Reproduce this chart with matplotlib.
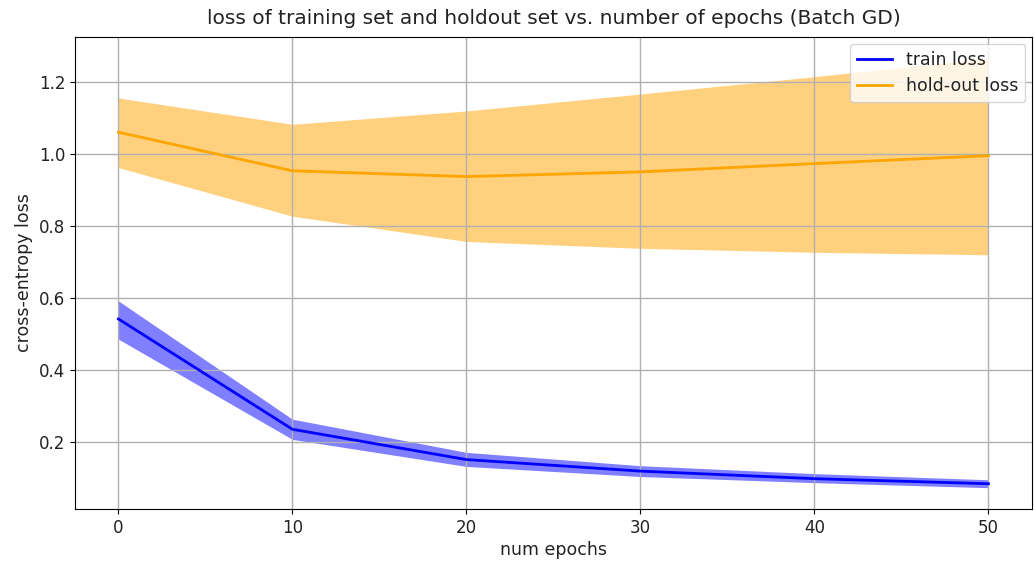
import matplotlib
matplotlib.use('Agg')
import matplotlib.pyplot as plt
import numpy as np

# epochs and loss values
epochs = [0, 10, 20, 30, 40, 50]

train_mean = [0.542, 0.236, 0.152, 0.120, 0.099, 0.085]
train_upper = [0.592, 0.264, 0.172, 0.135, 0.113, 0.096]
train_lower = [0.486, 0.208, 0.133, 0.105, 0.088, 0.074]

hold_mean = [1.060, 0.953, 0.937, 0.950, 0.973, 0.995]
hold_upper = [1.155, 1.082, 1.119, 1.166, 1.214, 1.265]
hold_lower = [0.962, 0.827, 0.757, 0.738, 0.727, 0.720]

plt.rcParams['font.size'] = 12.5
plt.rcParams['text.color'] = '#222222'
plt.rcParams['axes.labelcolor'] = '#222222'
plt.rcParams['xtick.labelcolor'] = '#222222'
plt.rcParams['ytick.labelcolor'] = '#222222'

fig = plt.figure(figsize=(10.34, 5.67), dpi=100)
ax = fig.add_axes([0.0725, 0.102, 0.9255, 0.833])

ax.plot(epochs, train_mean, color='blue', lw=2, label='train loss')
ax.fill_between(epochs, train_lower, train_upper, color='blue', alpha=0.5, lw=0)
ax.plot(epochs, hold_mean, color='orange', lw=2, label='hold-out loss')
ax.fill_between(epochs, hold_lower, hold_upper, color='orange', alpha=0.5, lw=0)

ax.set_xticks([0, 10, 20, 30, 40, 50])
ax.set_yticks([0.2, 0.4, 0.6, 0.8, 1.0, 1.2])
ax.tick_params(labelsize=12)
ax.grid(True, color='#b0b0b0', lw=1)
ax.set_xlabel('num epochs', labelpad=3)
ax.set_ylabel('cross-entropy loss')
ax.set_title('loss of training set and holdout set vs. number of epochs (Batch GD)', fontsize=14.5, pad=9)
ax.legend(loc='upper right', borderaxespad=0.4)

plt.savefig('out.png', dpi=100)
